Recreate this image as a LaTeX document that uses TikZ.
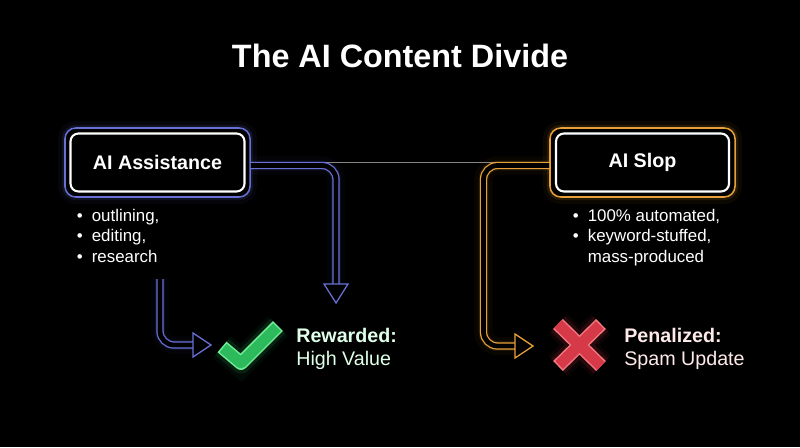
\documentclass[tikz,border=0pt]{standalone}
\usepackage{fontspec}
\setmainfont{Liberation Sans}
\usetikzlibrary{calc}

\definecolor{bluewire}{RGB}{104,112,214}
\definecolor{orangewire}{RGB}{232,160,56}
\definecolor{divideline}{RGB}{135,135,135}
\definecolor{checkfill}{RGB}{44,186,92}
\definecolor{checkedge}{RGB}{112,238,152}
\definecolor{crossfill}{RGB}{214,58,72}
\definecolor{crossedge}{RGB}{244,120,130}
\definecolor{goodtext}{RGB}{222,255,232}
\definecolor{badtext}{RGB}{255,234,234}

\begin{document}
\begin{tikzpicture}[
    x=0.025cm, y=-0.025cm,
    frame/.style={draw=#1, line width=1.1pt, fill=black, rounded corners=0.27cm,
      minimum width=4.625cm, minimum height=1.725cm,
      preaction={draw=#1, draw opacity=0.05, line width=10pt},
      preaction={draw=#1, draw opacity=0.12, line width=4.5pt}},
    topic/.style={draw=white, line width=1.5pt, fill=black, rounded corners=0.2cm,
      minimum height=1.45cm, text=white, font=\fontsize{14}{16}\selectfont\bfseries},
    halo/.style={draw=#1, draw opacity=0.1, line width=7pt, rounded corners=0.35cm,
      preaction={draw=#1, draw opacity=0.04, line width=13pt}},
    wire/.style={draw=#1, line width=0.9pt, double=black, double distance=3.4pt,
      rounded corners=0.35cm},
    head/.style={draw=#1, line width=0.9pt, fill=black, line join=miter},
    points/.style={anchor=north west, inner sep=0pt, text=white,
      font=\fontsize{12}{14.5}\selectfont},
    verdict/.style={anchor=west, inner sep=0pt, align=left,
      font=\fontsize{14}{16.3}\selectfont},
    markglow/.style={draw=#1, draw opacity=0.14, line width=15pt,
      preaction={draw=#1, draw opacity=0.06, line width=20pt}},
    markedge/.style={draw=#1, line width=9.9pt},
    markfill/.style={draw=#1, line width=7.8pt, shorten <=1.1pt, shorten >=1.1pt}
]

\fill[black] (0,0) rectangle (800,447);
\useasboundingbox (0,0) rectangle (800,447);

\node[text=white, anchor=base, font=\fontsize{23}{27}\selectfont\bfseries] (title) at (400,67) {The AI Content Divide};

% the two sides
\node[frame=bluewire] (assistframe) at (157.5,162.5) {};
\node[topic, minimum width=4.35cm] (assist) at (assistframe) {AI Assistance};
\node[frame=orangewire] (slopframe) at (642.5,162.5) {};
\node[topic, minimum width=4.325cm] (slop) at (slopframe) {AI Slop};

\node[points] (assistlist) at (76.5,207) {\begin{tabular}{@{}l@{\hspace{6.5pt}}l@{}}
  \textbullet & outlining,\\ \textbullet & editing,\\ \textbullet & research\end{tabular}};
\node[points] (sloplist) at (572.5,207) {\begin{tabular}{@{}l@{\hspace{6.5pt}}l@{}}
  \textbullet & 100\% automated,\\ \textbullet & keyword-stuffed,\\ & mass-produced\end{tabular}};

% arrow ends
\coordinate (listfoot) at (160,279);
\coordinate (baseL) at (193,345);
\coordinate (tipL) at (211,345);
\coordinate (baseA) at (336,284);
\coordinate (tipA) at (336,303);
\coordinate (bendR) at (483.5,346);
\coordinate (baseR) at (515,346);
\coordinate (tipR) at (533,346);

% thin divide line
\draw[divideline, line width=0.8pt] (assistframe.east) -- (slopframe.west);

% blue connectors
\draw[halo=bluewire] ($(assistframe.east)+(0,3)$) -| (baseA);
\draw[wire=bluewire] ($(assistframe.east)+(0,3)$) -| (baseA);
\draw[halo=bluewire] (listfoot) |- (baseL);
\draw[wire=bluewire] (listfoot) |- (baseL);
\draw[head=bluewire] ($(baseA)+(-12,0)$) -- (tipA) -- ($(baseA)+(12,0)$) -- cycle;
\draw[head=bluewire] ($(baseL)+(0,-12)$) -- (tipL) -- ($(baseL)+(0,12)$) -- cycle;

% orange connector
\draw[halo=orangewire] ($(slopframe.west)+(0,3)$) -| (bendR) -- (baseR);
\draw[wire=orangewire] ($(slopframe.west)+(0,3)$) -| (bendR) -- (baseR);
\draw[head=orangewire] ($(baseR)+(0,-12)$) -- (tipR) -- ($(baseR)+(0,12)$) -- cycle;

% check mark
\draw[markglow=checkfill, line join=round] (222,347) -- (241,363) -- (278,326);
\draw[markedge=checkedge, line join=round] (222,347) -- (241,363) -- (278,326);
\draw[markfill=checkfill, line join=round] (222,347) -- (241,363) -- (278,326);

% cross
\draw[markglow=crossfill] (558,324) -- (601,366) (601,324) -- (558,366);
\draw[markedge=crossedge] (558,324) -- (601,366) (601,324) -- (558,366);
\draw[markfill=crossfill] (558,324) -- (601,366) (601,324) -- (558,366);

\node[verdict, text=goodtext] (reward) at (296,349) {\textbf{Rewarded:}\\High Value};
\node[verdict, text=badtext] (penalty) at (624,349) {\textbf{Penalized:}\\Spam Update};

\end{tikzpicture}
\end{document}
